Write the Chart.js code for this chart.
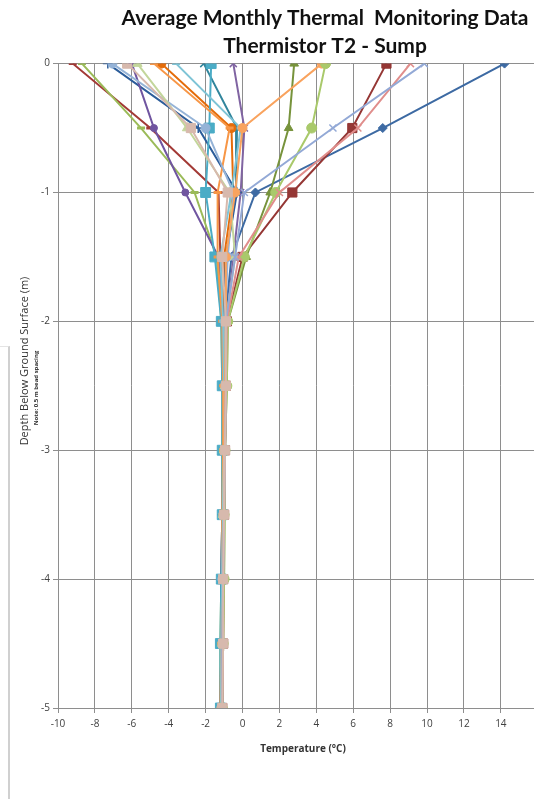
<!DOCTYPE html>
<html>
<head>
<meta charset="utf-8">
<script src="https://cdn.jsdelivr.net/npm/chart.js@4/dist/chart.umd.min.js"></script>
<style>
  html, body { margin: 0; padding: 0; background: #fff; overflow: hidden; }
  #wrap { position: relative; width: 650px; height: 799px; }
  #edge { position: absolute; left: 0; top: 346px; width: 8px; height: 453px; border-right: 2px solid #d0d0d0; border-top: 1px solid #e4e4e4; }
</style>
</head>
<body>
<div id="wrap"><canvas id="myChart"></canvas></div>
<div id="edge"></div>
<script>
// depth of each thermistor bead (m)
const depths = [0, -0.5, -1, -1.5, -2, -2.5, -3, -3.5, -4, -4.5, -5];

// average monthly temperature (deg C) at each depth, one array per month
const series01 = [14.2, 7.6, 0.7, -0.6, -0.95, -0.9, -1.0, -1.0, -1.05, -1.1, -1.1];
const series02 = [7.8, 5.95, 2.7, 0.0, -0.85, -0.9, -0.95, -1.0, -1.05, -1.05, -1.1];
const series03 = [2.8, 2.5, 1.5, 0.2, -0.8, -0.85, -0.95, -1.0, -1.0, -1.05, -1.1];
const series04 = [-0.5, 0.1, -0.1, -0.5, -0.85, -0.9, -0.95, -1.0, -1.05, -1.1, -1.1];
const series05 = [-2.1, -0.3, -0.35, -0.9, -1.0, -1.0, -1.0, -1.05, -1.1, -1.1, -1.15];
const series06 = [-4.4, -0.6, -0.5, -1.0, -1.05, -1.0, -1.0, -1.05, -1.1, -1.15, -1.15];
const series07 = [-7.3, -2.4, -0.3, -0.9, -1.0, -1.0, -1.05, -1.1, -1.1, -1.15, -1.15];
const series08 = [-9.2, -5.0, -1.3, -1.2, -1.1, -1.05, -1.05, -1.1, -1.15, -1.15, -1.2];
const series09 = [-8.7, -5.5, -2.6, -1.4, -1.15, -1.1, -1.1, -1.1, -1.15, -1.2, -1.2];
const series10 = [-6.0, -4.8, -3.1, -1.3, -1.1, -1.05, -1.05, -1.1, -1.15, -1.15, -1.2];
const series11 = [-1.7, -1.8, -2.0, -1.5, -1.15, -1.1, -1.1, -1.1, -1.15, -1.2, -1.2];
const series12 = [-4.8, -0.7, -1.35, -1.35, -1.1, -1.05, -1.05, -1.1, -1.1, -1.15, -1.2];
const series13 = [-7.05, -2.0, -0.5, -0.8, -0.95, -0.95, -1.0, -1.05, -1.1, -1.1, -1.15];
const series14 = [-5.7, -3.0, -0.7, -0.4, -0.9, -0.95, -1.0, -1.05, -1.05, -1.1, -1.15];
const series15 = [-3.6, -0.1, -0.6, -1.2, -1.05, -1.0, -1.0, -1.05, -1.1, -1.15, -1.15];
const series16 = [4.3, 0.0, -0.4, -0.9, -0.9, -0.95, -1.0, -1.0, -1.05, -1.1, -1.1];
const series17 = [4.5, 3.75, 1.8, 0.1, -0.8, -0.85, -0.95, -1.0, -1.0, -1.05, -1.1];
const series18 = [9.1, 6.25, 2.0, -0.2, -0.85, -0.9, -0.95, -1.0, -1.05, -1.05, -1.1];
const series19 = [9.85, 4.9, 0.1, -0.4, -0.9, -0.9, -0.95, -1.0, -1.05, -1.1, -1.1];
const series20 = [-6.25, -2.8, -0.8, -1.1, -0.9, -0.9, -0.95, -1.0, -1.05, -1.05, -1.1];

const xTicks = [-10, -8, -6, -4, -2, 0, 2, 4, 6, 8, 10, 12, 14];
const yTicks = [0, -1, -2, -3, -4, -5];

const allSeries = [series01, series02, series03, series04, series05, series06, series07,
  series08, series09, series10, series11, series12, series13, series14, series15,
  series16, series17, series18, series19, series20];

// excel-ish colours and markers, later series drawn on top
const looks = [
  { color: '#3d6aa3', marker: 'rectRot', r: 4.5, bw: 1 },
  { color: '#953735', marker: 'rect', r: 6.5, bw: 1 },
  { color: '#77933c', marker: 'triangle', r: 5, bw: 1 },
  { color: '#8064a2', marker: 'crossRot', r: 5, bw: 1.5 },
  { color: '#31859c', marker: 'crossRot', r: 5, bw: 1.5 },
  { color: '#e46c0a', marker: 'circle', r: 4.5, bw: 1 },
  { color: '#2c5d9a', marker: 'cross', r: 5, bw: 1.5 },
  { color: '#a33a36', marker: 'line', r: 4, bw: 3 },
  { color: '#9bbb59', marker: 'line', r: 4, bw: 3 },
  { color: '#7055a0', marker: 'circle', r: 3.5, bw: 1 },
  { color: '#4bacc6', marker: 'rect', r: 7, bw: 1 },
  { color: '#f79646', marker: 'line', r: 4, bw: 3 },
  { color: '#95b3d7', marker: 'circle', r: 4.5, bw: 1 },
  { color: '#c3d69b', marker: 'triangle', r: 5.5, bw: 1 },
  { color: '#7fc4d6', marker: 'line', r: 4, bw: 3 },
  { color: '#f9a35e', marker: 'circle', r: 4.5, bw: 1 },
  { color: '#a9c96b', marker: 'circle', r: 5, bw: 1 },
  { color: '#e08e8c', marker: 'crossRot', r: 5, bw: 1.5 },
  { color: '#93a9d6', marker: 'crossRot', r: 5, bw: 1.5 },
  { color: '#d7b9ad', marker: 'rect', r: 6.5, bw: 1 }
];

const datasets = allSeries.map((vals, k) => ({
  label: 'Series ' + (k + 1),
  data: depths.map((d, i) => ({ x: vals[i], y: d })),
  order: allSeries.length - k,
  showLine: true,
  borderColor: looks[k].color,
  backgroundColor: looks[k].color,
  borderWidth: 2,
  pointStyle: looks[k].marker,
  pointRadius: looks[k].r,
  pointBorderWidth: looks[k].bw,
  pointBorderColor: looks[k].color,
  pointBackgroundColor: looks[k].color
}));

// axis titles placed like the excel chart (x title centred on the whole chart)
const axisTitles = {
  id: 'axisTitles',
  afterDraw(chart) {
    const c = chart.ctx;
    c.save();
    c.fillStyle = '#333';
    c.textAlign = 'center';
    c.textBaseline = 'middle';
    c.font = 'bold 10px "Open Sans"';
    c.fillText('Temperature (°C)', 303, 749);
    c.translate(25, 361);
    c.rotate(-Math.PI / 2);
    c.font = '11px "Open Sans"';
    c.fillText('Depth Below Ground Surface (m)', 0, 0);
    c.restore();
    c.save();
    c.fillStyle = '#333';
    c.textAlign = 'center';
    c.textBaseline = 'middle';
    c.translate(36, 388);
    c.rotate(-Math.PI / 2);
    c.font = 'bold 6px "Open Sans"';
    c.fillText('Note: 0.5 m bead spacing', 0, 0);
    c.restore();
  }
};

const gridGray = '#8e8e8e';

new Chart(document.getElementById('myChart').getContext('2d'), {
  type: 'scatter',
  data: { datasets: datasets },
  options: {
    responsive: true,
    maintainAspectRatio: false,
    animation: false,
    layout: { padding: { left: 0, right: 0, top: 0, bottom: 64 } },
    plugins: {
      legend: { display: false },
      tooltip: { enabled: false },
      title: {
        display: true,
        text: ['Average Monthly Thermal  Monitoring Data', 'Thermistor T2 - Sump'],
        color: '#111',
        font: { family: 'Lato', size: 21, weight: 'bold', lineHeight: 1.3 },
        padding: { top: 5, bottom: 4 }
      }
    },
    scales: {
      x: {
        type: 'linear',
        min: -10,
        max: 21.65,
        afterBuildTicks: (s) => { s.ticks = xTicks.map(v => ({ value: v })); },
        ticks: { color: '#404040', font: { family: 'Open Sans', size: 10 }, padding: 5 },
        grid: { color: gridGray, tickLength: 5, tickColor: gridGray },
        border: { color: gridGray }
      },
      y: {
        type: 'linear',
        min: -5,
        max: 0,
        afterBuildTicks: (s) => { s.ticks = yTicks.map(v => ({ value: v })); },
        afterFit: (s) => { s.width = 58; },
        ticks: { color: '#404040', font: { family: 'Open Sans', size: 10 }, padding: 3 },
        grid: { color: gridGray, tickLength: 5, tickColor: gridGray },
        border: { color: gridGray }
      }
    }
  },
  plugins: [axisTitles]
});
</script>
</body>
</html>
